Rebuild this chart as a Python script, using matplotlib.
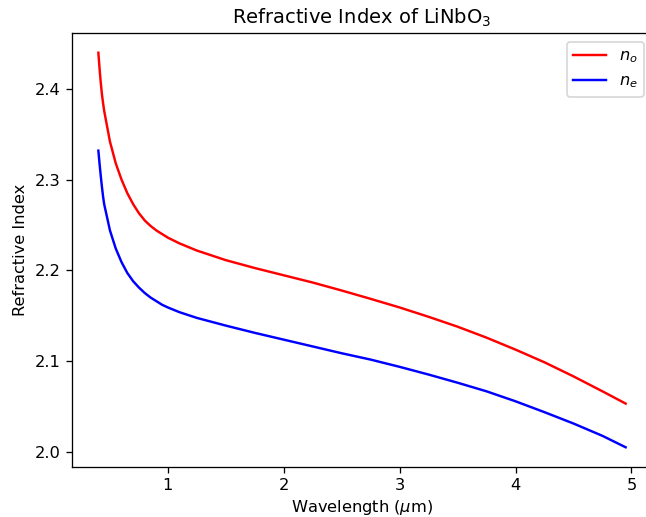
import numpy as np
import matplotlib as mpl
mpl.use("Agg")
from matplotlib import pyplot as plt

# 波长 (um) 和从图上读出的折射率
wavelength = [0.40, 0.41, 0.42, 0.43, 0.44, 0.45, 0.50, 0.55, 0.60, 0.65,
              0.70, 0.75, 0.80, 0.85, 0.90, 0.95, 1.00, 1.10, 1.25, 1.50,
              1.75, 2.00, 2.25, 2.50, 2.75, 3.00, 3.25, 3.50, 3.75, 4.00,
              4.25, 4.50, 4.75, 4.95]
n_o = [2.440, 2.423, 2.408, 2.395, 2.385, 2.376, 2.342, 2.318, 2.300, 2.285,
       2.273, 2.263, 2.255, 2.249, 2.244, 2.240, 2.236, 2.2297, 2.2218, 2.2112,
       2.2025, 2.1945, 2.1865, 2.1777, 2.1685, 2.1590, 2.1487, 2.1378, 2.1257, 2.1125,
       2.0985, 2.0830, 2.0665, 2.0530]
n_e = [2.332, 2.318, 2.305, 2.293, 2.282, 2.273, 2.244, 2.224, 2.209, 2.197,
       2.188, 2.181, 2.175, 2.170, 2.166, 2.162, 2.159, 2.1538, 2.1475, 2.139,
       2.131, 2.1235, 2.116, 2.1085, 2.1015, 2.0935, 2.085, 2.076, 2.0665, 2.0555,
       2.0435, 2.031, 2.0174, 2.0048]

dpi = 117
W, H = 646, 517
f = plt.figure(figsize=(W / dpi, H / dpi), dpi=dpi)
# 坐标轴右边超出画布（原图被裁掉了）
ax = f.add_axes([72 / W, (H - 467) / H, 580 / W, 434 / H])
ax.spines['right'].set_visible(False)

ax.plot(wavelength, n_o, color='red', label='$n_o$')
ax.plot(wavelength, n_e, color='blue', label='$n_e$')

ax.set_title("Refractive Index of LiNbO$_3$")
ax.set_xlabel("Wavelength ($\\mu$m)", labelpad=3)
ax.set_ylabel("Refractive Index")
ax.set_xticks([1, 2, 3, 4, 5])
ax.set_yticks([2.0, 2.1, 2.2, 2.3, 2.4])

ax.legend(loc='upper right', bbox_to_anchor=(644 / W, 1 - 42 / H),
          bbox_transform=f.transFigure, borderaxespad=0)

f.savefig("out.png", dpi=dpi)
